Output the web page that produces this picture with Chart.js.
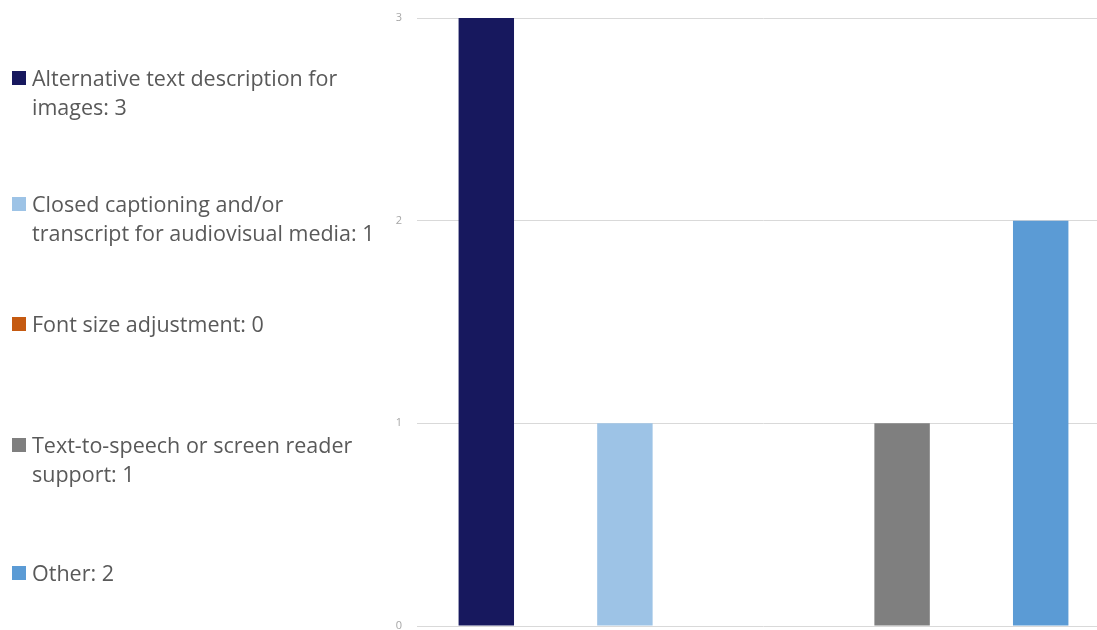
<!DOCTYPE html>
<html>
<head>
<meta charset="utf-8">
<script src="https://cdn.jsdelivr.net/npm/chart.js@4"></script>
<style>
    html, body { margin: 0; padding: 0; background: #fff; overflow: hidden; }
    #chart { position: absolute; left: 0; top: 0; }
    #legend { position: absolute; left: 12px; top: 0; width: 385px; font-family: "Open Sans", Lato, sans-serif; font-size: 21.5px; color: #595959; }
    .item { position: absolute; left: 0; line-height: 29px; padding-left: 20px; white-space: nowrap; }
    .swatch { position: absolute; left: 0; top: 8px; width: 14px; height: 14px; }
</style>
</head>
<body>
<canvas id="chart" width="1112" height="630"></canvas>
<div id="legend"></div>
<script>
const categories = [
    'Alternative text description for images',
    'Closed captioning and/or transcript for audiovisual media',
    'Font size adjustment',
    'Text-to-speech or screen reader support',
    'Other'
];
const counts = [3, 1, 0, 1, 2];
const barColors = ['#17185e', '#9dc3e6', '#c55a11', '#7f7f7f', '#5b9bd5'];
const yTicks = [0, 1, 2, 3];

// legend text is broken by hand to follow the two-line wrap
const legendLines = [
    ['Alternative text description for', 'images: ' + counts[0]],
    ['Closed captioning and/or', 'transcript for audiovisual media: ' + counts[1]],
    ['Font size adjustment: ' + counts[2]],
    ['Text-to-speech or screen reader', 'support: ' + counts[3]],
    ['Other: ' + counts[4]]
];
const legendTops = [63, 189, 309, 430, 558];

const legendEl = document.getElementById('legend');
legendLines.forEach((lines, i) => {
    const div = document.createElement('div');
    div.className = 'item';
    div.style.top = legendTops[i] + 'px';
    div.innerHTML = `<span class="swatch" style="background:${barColors[i]}"></span>` + lines.join('<br>');
    legendEl.appendChild(div);
});

new Chart(document.getElementById('chart'), {
    type: 'bar',
    data: {
        labels: categories,
        datasets: [{
            data: counts,
            backgroundColor: barColors,
            borderWidth: 0,
            categoryPercentage: 1,
            barPercentage: 0.4
        }]
    },
    options: {
        responsive: false,
        animation: false,
        layout: { padding: { top: 18, bottom: 4, right: 2, left: 0 } },
        plugins: { legend: { display: false }, tooltip: { enabled: false } },
        scales: {
            x: { display: false },
            y: {
                min: 0,
                max: 3,
                afterFit: scale => {
                    // fixed gutter for the legend; keep tick labels from adding vertical padding
                    scale.width = 417;
                    scale.paddingTop = 0;
                    scale.paddingBottom = 0;
                },
                afterBuildTicks: scale => { scale.ticks = yTicks.map(v => ({ value: v })); },
                border: { display: false },
                grid: { color: '#d9d9d9', drawTicks: false, lineWidth: 1 },
                ticks: { padding: 15, color: '#a6a6a6', font: { family: 'Open Sans', size: 11 } }
            }
        }
    }
});
</script>
</body>
</html>
